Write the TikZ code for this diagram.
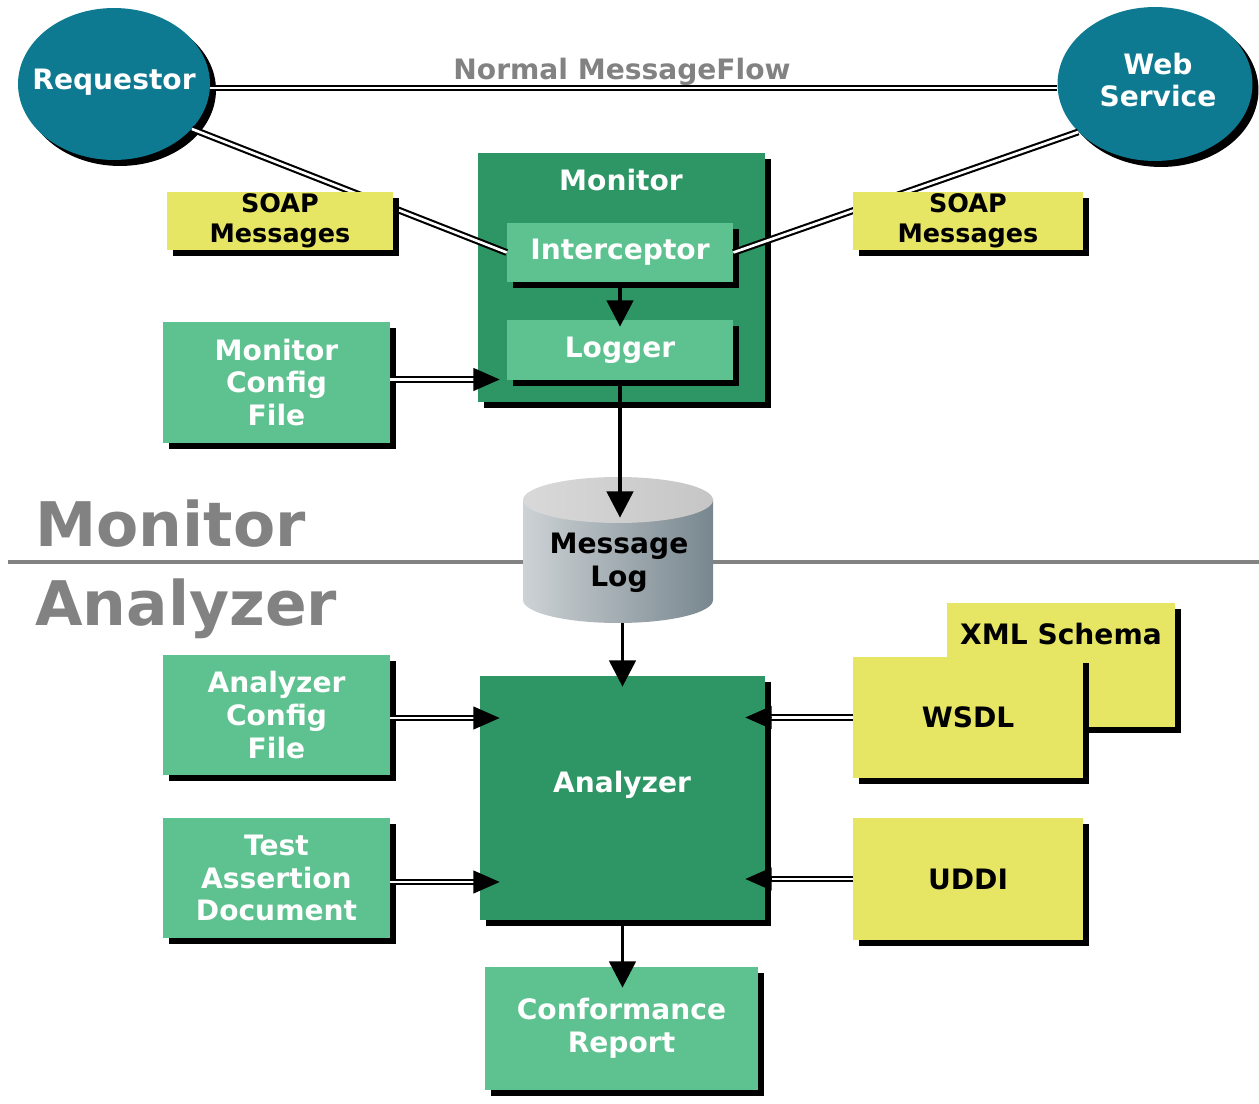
\documentclass[tikz,border=0pt]{standalone}
\usepackage{fontspec}
\setmainfont{DejaVu Sans}
\usetikzlibrary{shadows,calc,arrows.meta,shapes.geometric}
\definecolor{cTeal}{RGB}{14,122,145}
\definecolor{cDark}{RGB}{46,150,100}
\definecolor{cLight}{RGB}{94,194,144}
\definecolor{cYel}{RGB}{230,230,100}
\definecolor{cGray}{RGB}{130,130,130}
\definecolor{cylL}{RGB}{205,210,213}
\definecolor{cylM}{RGB}{160,175,183}
\definecolor{cylR}{RGB}{120,135,143}
\begin{document}
\begin{tikzpicture}[x=0.02cm,y=-0.02cm,
  shd/.style={drop shadow={shadow xshift=0.12cm,shadow yshift=-0.12cm,fill=black,opacity=1}},
  lbl/.style={font=\bfseries\fontsize{16}{18.7}\selectfont, align=center},
  slbl/.style={font=\bfseries\fontsize{14.5}{17}\selectfont, align=center},
  gbox/.style={shd, fill=cLight, text=white, lbl, inner sep=0pt},
  dbox/.style={shd, fill=cDark, inner sep=0pt},
  ybox/.style={shd, fill=cYel, text=black, lbl, inner sep=0pt},
  ell/.style={ellipse, shd, fill=cTeal, inner sep=0pt},
  dbl/.style={draw=black, line width=1.2pt, double=white, double distance=1.5pt},
  tipa/.style={-{Triangle[length=15pt,width=13pt]}, black, line width=1pt},
  varr/.style={-{Triangle[length=15pt,width=15pt]}, black, line width=2.2pt}
]
\useasboundingbox (0,0) rectangle (1259,1104);

% top: requestor and web service
\node[ell, minimum width=3.84cm, minimum height=3.04cm] (req) at (114,84) {};
\node[lbl, text=white] (reqT) at (114,82) {Requestor};
\node[ell, minimum width=3.9cm, minimum height=3.08cm] (ws) at (1155,84) {};
\node[lbl, text=white] (wsT) at (1158,80) {Web\\Service};
\node[lbl, text=cGray, anchor=base] (nmf) at (622,80) {Normal MessageFlow};
\draw[dbl] ([yshift=-0.08cm]req.east) -- ([yshift=-0.08cm]ws.west);

% monitor
\node[dbox, minimum width=5.74cm, minimum height=4.98cm] (mon) at (621.5,277.5) {};
\node[lbl, text=white] (monT) at (621,180) {Monitor};
\node[gbox, minimum width=4.52cm, minimum height=1.18cm] (icp) at (620,252.5) {Interceptor};
\node[gbox, minimum width=4.52cm, minimum height=1.2cm] (log) at (620,350) {Logger};
\draw[dbl] (req.-30) -- (icp.west);
\draw[dbl] (ws.212) -- (icp.east);
\node[ybox, slbl, minimum width=4.52cm, minimum height=1.16cm] (soapL) at (280,221) {SOAP\\Messages};
\node[ybox, slbl, minimum width=4.6cm, minimum height=1.16cm] (soapR) at (968,221) {SOAP\\Messages};
\draw[varr] (icp.south) -- ($(log.north)+(0,7)$);

\node[gbox, minimum width=4.54cm, minimum height=2.42cm] (mcf) at (276.5,382.5) {Monitor\\Config\\File};
\coordinate (t1) at ($(mon.west |- mcf.east)+(22,-3)$);
\draw[dbl] (mcf.east |- t1) -- ($(t1)+(-18,0)$);
\draw[tipa] ($(t1)+(-26,0)$) -- (t1);

% separator and section labels
\draw[cGray, line width=2.3pt] (8,562) -- (1259,562);
\node[anchor=base west, text=cGray, font=\bfseries\fontsize{35}{40}\selectfont, inner sep=0pt] (secM) at (35,547) {Monitor};
\node[anchor=base west, text=cGray, font=\bfseries\fontsize{35}{40}\selectfont, inner sep=0pt] (secA) at (35,626) {Analyzer};

% message log cylinder
\node[minimum width=3.8cm, minimum height=2.92cm, inner sep=0pt] (mlog) at (618,550) {};
\shade[left color=cylL, middle color=cylM, right color=cylR] (523,500) rectangle (713,600);
\shade[left color=cylL, middle color=cylM, right color=cylR] (618,600) ellipse [x radius=1.9cm, y radius=0.46cm];
\shade[left color=gray!30, middle color=white, right color=gray!45] (618,500) ellipse [x radius=1.9cm, y radius=0.46cm];
\node[lbl, text=black] (mlogT) at (619,563) {Message\\Log};
\draw[varr] (log.south) -- ($(log.south |- mlog.north)+(0,41)$);

% analyzer
\node[gbox, minimum width=4.54cm, minimum height=2.4cm] (acf) at (276.5,715) {Analyzer\\Config\\File};
\node[gbox, minimum width=4.54cm, minimum height=2.4cm] (tad) at (276.5,878) {Test\\Assertion\\Document};
\node[dbox, minimum width=5.7cm, minimum height=4.88cm] (ana) at (622.5,798) {};
\node[lbl, text=white] (anaT) at (622,785) {Analyzer};
\node[ybox, minimum width=4.56cm, minimum height=2.48cm] (xml) at (1061,665) {};
\node[lbl, text=black] (xmlT) at (1061,634) {XML Schema};
\node[ybox, minimum width=4.6cm, minimum height=2.42cm] (wsdl) at (968,717.5) {WSDL};
\node[ybox, minimum width=4.6cm, minimum height=2.44cm] (uddi) at (968,879) {UDDI};
\node[gbox, minimum width=5.46cm, minimum height=2.46cm] (conf) at (621.5,1028.5) {Conformance\\Report};

\draw[varr] (mlog.south -| ana.north) -- ($(ana.north)+(0,11)$);
\draw[varr] (ana.south) -- ($(ana.south |- conf.north)+(0,21)$);

\coordinate (t2) at ($(ana.west |- acf.east)+(20,3)$);
\draw[dbl] (acf.east |- t2) -- ($(t2)+(-18,0)$);
\draw[tipa] ($(t2)+(-26,0)$) -- (t2);
\coordinate (t3) at ($(ana.west |- tad.east)+(20,4)$);
\draw[dbl] (tad.east |- t3) -- ($(t3)+(-18,0)$);
\draw[tipa] ($(t3)+(-26,0)$) -- (t3);
\coordinate (t4) at ($(ana.east |- wsdl.west)+(-20,0)$);
\draw[dbl] (wsdl.west) -- ($(t4)+(18,0)$);
\draw[tipa] ($(t4)+(26,0)$) -- (t4);
\coordinate (t5) at ($(ana.east |- uddi.west)+(-20,0)$);
\draw[dbl] (uddi.west) -- ($(t5)+(18,0)$);
\draw[tipa] ($(t5)+(26,0)$) -- (t5);
\end{tikzpicture}
\end{document}
